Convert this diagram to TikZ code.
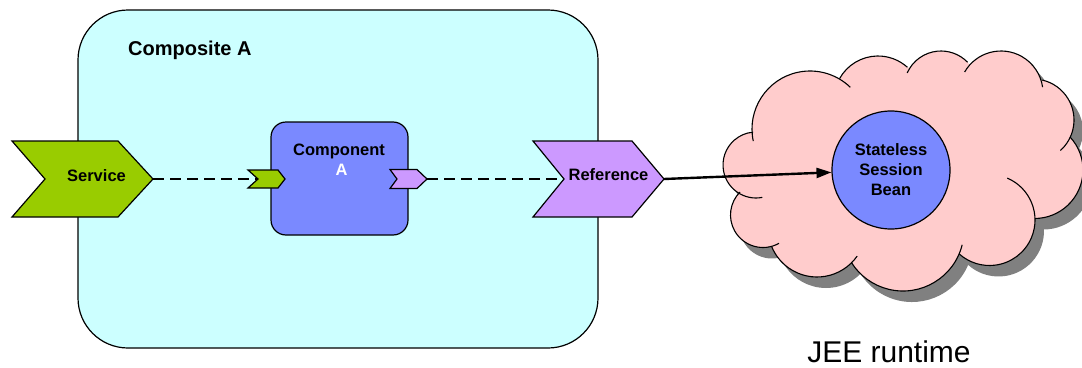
\documentclass[tikz,border=0pt]{standalone}
\usepackage{fontspec}
\setmainfont{Liberation Sans}
\usetikzlibrary{arrows.meta,calc}

\definecolor{compfill}{HTML}{CCFFFF}
\definecolor{svcgreen}{HTML}{99CC00}
\definecolor{refpurple}{HTML}{CC99FF}
\definecolor{compblue}{HTML}{7A89FF}
\definecolor{cloudpink}{HTML}{FFCCCC}
\definecolor{shadowgray}{HTML}{808080}

% closed outline of the cloud, built from circular bumps (clockwise)
\newcommand\cloudoutline{%
 ($(810,129)+(177:58)$) arc[start angle=177,end angle=303,radius=58]
 -- ($(878,100)+(209:44)$) arc[start angle=209,end angle=312,radius=44]
 -- ($(941,88)+(213:37)$) arc[start angle=213,end angle=316,radius=37]
 -- ($(1001,93)+(222:42)$) arc[start angle=222,end angle=342,radius=42]
 -- ($(1033,120)+(283:41)$) arc[start angle=283,end angle=385,radius=41]
 -- ($(1034.5,170)+(317:48.5)$) arc[start angle=317,end angle=449.4,radius=48.5]
 -- ($(989.5,220)+(357.5:45.5)$) arc[start angle=357.5,end angle=492,radius=45.5]
 -- ($(903,230)+(23:61)$) arc[start angle=23,end angle=147.6,radius=61]
 -- ($(817,228)+(45.2:49)$) arc[start angle=45.2,end angle=158,radius=49]
 -- ($(763,215)+(74.6:32.5)$) arc[start angle=74.6,end angle=225,radius=32.5]
 -- ($(756,165)+(120.6:33)$) arc[start angle=120.6,end angle=265,radius=33]
 -- cycle}

\tikzset{
  outline/.style={draw=black, line width=1.2pt},
  boldlabel/.style={font=\bfseries\fontsize{16.5}{20}\selectfont, inner sep=0pt},
  chevronshape/.style={outline, line join=miter},
  wire/.style={line width=2.8pt, dash pattern=on 11pt off 6pt},
  invoke/.style={line width=2.4pt, -{Triangle[length=15pt,width=10pt]}},
  cloudline/.style={draw=black, line width=1.1pt},
}

\begin{document}
\begin{tikzpicture}[x=1pt,y=-1pt]
\useasboundingbox (0,0) rectangle (1082,367);

% composite container
\node[outline, fill=compfill, rounded corners=50pt, minimum width=520pt,
      minimum height=338pt, inner sep=0pt] (compA) at (338,179) {};
\node[anchor=base west, font=\bfseries\fontsize{20}{24}\selectfont, inner sep=0pt]
      (compAlbl) at (128,55) {Composite A};

% component inside the composite
\node[outline, fill=compblue, rounded corners=15pt, minimum width=137pt,
      minimum height=113pt, inner sep=0pt] (comp) at (339.5,178.5) {};
\node[boldlabel, anchor=base] (complbl) at (339,155) {Component};
\node[boldlabel, anchor=base, text=white] (compname) at (341.5,175) {A};

% promoted service and reference ends
\coordinate (svc-tip) at (153,179);
\coordinate (gin-notch) at (258,179);
\coordinate (pin-tip) at (427,179);
\coordinate (ref-notch) at (564,179);
\coordinate (ref-tip) at (664,179);

\draw[wire] (svc-tip) -- (gin-notch);
\draw[wire] (pin-tip) -- (ref-notch);

% service chevron
\path[chevronshape, fill=svcgreen] (12,141) -- (118,141) -- (svc-tip) -- (118,217)
      -- (12,217) -- (45,179) -- cycle;
\node[boldlabel] (svclbl) at (96.5,175.5) {Service};

% component service and reference chevrons
\path[chevronshape, fill=svcgreen] (248,170) -- (278,170) -- (285,179) -- (278,188)
      -- (248,188) -- (gin-notch) -- cycle;
\path[chevronshape, fill=refpurple] (390,169.5) -- (417,169.5) -- (pin-tip)
      -- (417,188.5) -- (390,188.5) -- (397,179) -- cycle;

% reference chevron
\path[chevronshape, fill=refpurple] (533,141) -- (632,141) -- (ref-tip) -- (632,217)
      -- (533,217) -- (ref-notch) -- cycle;
\node[boldlabel] (reflbl) at (608.5,175) {Reference};

% runtime cloud: shadow, body, bump outlines
\begin{scope}[shift={(9,11)}]
  \fill[shadowgray] \cloudoutline;
\end{scope}
\fill[cloudpink] \cloudoutline;
\foreach \cx/\cy/\r/\a/\b in {810/129/58/168/314, 878/100/44/209/312,
    941/88/37/204/316, 1001/93/42/210/352, 1033/120/41/283/408,
    1034.5/170/48.5/317/449.4, 989.5/220/45.5/293/492, 903/230/61/14/147.6,
    817/228/49/35/158, 763/215/32.5/60.5/225, 756/165/33/79/265}
  \draw[cloudline] ($(\cx,\cy)+(\a:\r)$) arc[start angle=\a,end angle=\b,radius=\r];

% bean
\node[outline, circle, fill=compblue, minimum size=118pt, inner sep=0pt,
      align=center, font=\bfseries\fontsize{16.5}{20}\selectfont] (bean) at (891,170)
      {Stateless\\Session\\Bean};

\draw[invoke] (ref-tip) -- (bean);

\node[anchor=base, font=\fontsize{30}{35}\selectfont, inner sep=0pt] (jee) at (889,362)
      {JEE runtime};
\end{tikzpicture}
\end{document}
